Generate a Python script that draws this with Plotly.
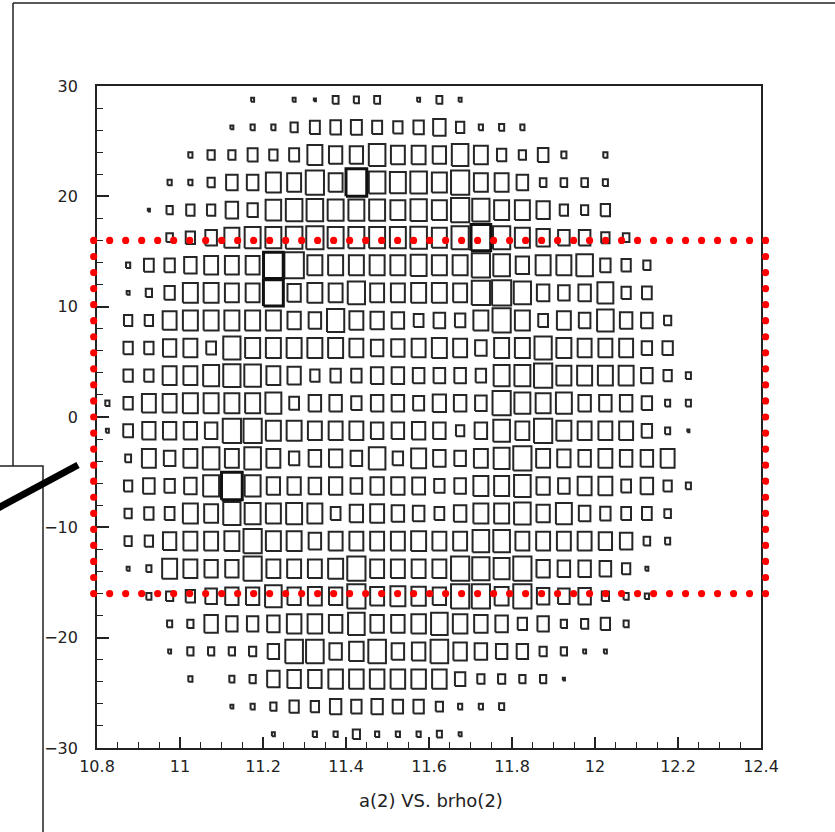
import numpy as np
import plotly.graph_objects as go

# ---- data ---------------------------------------------------------------
x_centers = [10.825, 10.875, 10.925, 10.975, 11.025, 11.075, 11.125, 11.175,
             11.225, 11.275, 11.325, 11.375, 11.425, 11.475, 11.525, 11.575,
             11.625, 11.675, 11.725, 11.775, 11.825, 11.875, 11.925, 11.975,
             12.025, 12.075, 12.125, 12.175, 12.225, 12.275, 12.325, 12.375]
y_centers = [28.75, 26.25, 23.75, 21.25, 18.75, 16.25, 13.75, 11.25, 8.75, 6.25,
             3.75, 1.25, -1.25, -3.75, -6.25, -8.75, -11.25, -13.75, -16.25,
             -18.75, -21.25, -23.75, -26.25, -28.75]
bin_dx = 0.05
bin_dy = 2.5

# counts per cell, rows top (y=28.75) to bottom (y=-28.75)
counts = [
    [0,0,0,0,0,0,0,2,0,2,1,8,6,8,0,2,8,2,0,0,0,0,0,0,0,0,0,0,0,0,0,0],
    [0,0,0,0,0,0,2,4,4,12,23,26,28,23,20,25,36,16,4,6,4,0,0,0,0,0,0,0,0,0,0,0],
    [0,0,0,0,4,12,12,23,16,23,52,41,41,64,45,45,41,64,45,20,12,26,6,0,4,0,0,0,0,0,0,0],
    [0,0,0,4,4,12,31,31,52,45,77,45,100,64,59,64,52,77,45,45,31,10,10,10,6,0,0,0,0,0,0,0],
    [0,0,1,9,16,16,36,25,56,64,64,59,59,59,52,62,52,77,69,52,52,41,16,12,20,0,0,0,0,0,0,0],
    [0,0,0,10,20,31,52,59,59,64,69,59,59,59,59,64,52,69,90,69,52,41,31,31,16,10,0,0,0,0,0,0],
    [0,4,22,25,36,45,45,45,90,88,52,52,52,52,52,59,52,52,77,64,41,52,52,64,25,20,12,0,0,0,0,0],
    [0,2,9,25,52,52,45,45,92,41,52,45,69,45,45,52,52,45,77,85,69,36,31,36,59,20,22,0,0,0,0,0],
    [0,16,16,45,52,52,52,52,52,41,36,69,45,41,36,22,31,25,52,77,52,22,45,31,64,36,31,12,0,0,0,0],
    [0,20,20,41,45,22,69,52,52,52,52,52,45,36,41,45,52,45,31,52,52,69,52,45,45,45,25,25,0,0,0,0],
    [0,20,20,45,45,59,69,64,45,41,20,25,25,36,36,31,31,31,25,59,59,77,52,52,52,52,31,16,6,0,0,0],
    [4,20,45,45,52,52,52,52,59,22,36,36,25,36,36,28,41,36,31,77,59,52,59,36,36,36,25,6,6,0,0,0],
    [2,22,41,41,41,36,77,77,52,52,45,45,45,36,36,41,36,16,36,64,45,77,52,45,45,45,25,6,1,0,0,0],
    [0,8,45,31,45,64,45,64,45,25,36,41,31,64,25,52,36,31,45,59,77,45,41,36,45,36,36,45,0,0,0,0],
    [0,16,31,25,36,59,100,59,41,41,36,41,31,41,41,38,25,31,52,52,64,41,31,45,45,22,36,16,6,0,0,0],
    [0,12,20,22,52,45,69,59,52,59,52,22,41,45,36,31,22,36,52,52,64,41,59,31,25,22,22,10,0,0,0,0],
    [0,12,16,41,45,45,52,77,52,52,36,45,45,45,45,52,45,45,64,64,45,45,45,45,41,36,10,6,0,0,0,0],
    [0,2,6,52,45,41,41,77,45,45,45,52,77,45,45,45,45,77,69,59,77,41,36,36,31,16,2,0,0,0,0,0],
    [0,0,6,12,20,31,41,41,64,41,45,41,77,45,52,48,41,77,77,45,77,36,31,36,12,6,4,0,0,0,0,0],
    [0,0,0,6,9,42,30,30,36,49,49,42,64,42,42,49,64,49,42,36,20,30,9,12,20,6,0,0,0,0,0,0],
    [0,0,0,2,9,9,9,12,30,72,72,36,49,72,36,42,72,42,36,30,30,12,9,2,2,0,0,0,0,0,0,0],
    [0,0,0,0,4,0,6,9,36,42,42,49,49,49,49,49,49,25,12,12,9,9,1,0,0,0,0,0,0,0,0,0],
    [0,0,0,0,0,0,2,4,9,20,16,30,25,30,25,25,12,4,4,6,0,0,0,0,0,0,0,0,0,0,0,0],
    [0,0,0,0,0,0,0,0,2,0,4,4,12,4,4,4,6,2,0,0,0,0,0,0,0,0,0,0,0,0,0,0],
]

x_tickvals = [10.8, 11.0, 11.2, 11.4, 11.6, 11.8, 12.0, 12.2, 12.4]
x_ticktext = ["10.8", "11", "11.2", "11.4", "11.6", "11.8", "12", "12.2", "12.4"]
y_tickvals = [-30, -20, -10, 0, 10, 20, 30]
y_ticktext = ["\u221230", "\u221220", "\u221210", "0", "10", "20", "30"]

title_text = "a(2) VS. brho(2)"

# selection window (red dotted rectangle), data units
sel_x0, sel_x1 = 10.792, 12.411
sel_y0, sel_y1 = -16.0, 16.0

x_range = [10.8, 12.4]
y_range = [-30, 30]

# ---- build box outlines ---------------------------------------------------
cmax = max(max(r) for r in counts)
norm_x, norm_y, bold_x, bold_y = [], [], [], []
for j, row in enumerate(counts):
    for i, c in enumerate(row):
        if c <= 0:
            continue
        f = np.sqrt(c / cmax)
        hx = 0.5 * f * bin_dx
        hy = 0.5 * f * bin_dy
        xc, yc = x_centers[i], y_centers[j]
        xs = [xc - hx, xc + hx, xc + hx, xc - hx, xc - hx, None]
        ys = [yc - hy, yc - hy, yc + hy, yc + hy, yc - hy, None]
        if c >= 90:
            bold_x += xs; bold_y += ys
        else:
            norm_x += xs; norm_y += ys

fig = go.Figure()
fig.add_trace(go.Scatter(x=norm_x, y=norm_y, mode="lines",
                         line=dict(color="#262626", width=2.0),
                         hoverinfo="skip", showlegend=False))
fig.add_trace(go.Scatter(x=bold_x, y=bold_y, mode="lines",
                         line=dict(color="#111111", width=3.0),
                         hoverinfo="skip", showlegend=False))

# ---- layout ---------------------------------------------------------------
W, H = 835, 832
ML, MR, MT, MB = 97, 74, 86, 84
pw, ph = W - ML - MR, H - MT - MB


def px_x(p):
    return (p - ML) / pw


def px_y(p):
    return (H - MB - p) / ph


def dx_paper(x):
    return (x - x_range[0]) / (x_range[1] - x_range[0])


def dy_paper(y):
    return (y - y_range[0]) / (y_range[1] - y_range[0])


shapes = [
    # outer page frame
    dict(type="line", xref="paper", yref="paper",
         x0=px_x(13), y0=px_y(3), x1=px_x(840), y1=px_y(3),
         line=dict(color="#222", width=1.5)),
    dict(type="line", xref="paper", yref="paper",
         x0=px_x(13), y0=px_y(3), x1=px_x(13), y1=px_y(466),
         line=dict(color="#222", width=1.5)),
    # overlapping white panel
    dict(type="rect", xref="paper", yref="paper",
         x0=px_x(-5), y0=px_y(466), x1=px_x(43), y1=px_y(845),
         fillcolor="white", line=dict(color="#222", width=1.5)),
    # thick pointer line
    dict(type="line", xref="paper", yref="paper",
         x0=px_x(-2), y0=px_y(508), x1=px_x(78), y1=px_y(465),
         line=dict(color="black", width=7)),
]

# red dotted selection window: dots along the perimeter
nx, ny = 42, 22
tx = np.linspace(sel_x0, sel_x1, nx + 1)
ty = np.linspace(sel_y0, sel_y1, ny + 1)
perim = ([(x, sel_y1) for x in tx] + [(x, sel_y0) for x in tx] +
         [(sel_x0, y) for y in ty[1:-1]] + [(sel_x1, y) for y in ty[1:-1]])
r = 3.6
for (x, y) in perim:
    shapes.append(dict(type="circle", xref="paper", yref="paper",
                       xsizemode="pixel", ysizemode="pixel",
                       xanchor=dx_paper(x), yanchor=dy_paper(y),
                       x0=-r, x1=r, y0=-r, y1=r,
                       fillcolor="#ff0000", line=dict(width=0)))

font = dict(family="DejaVu Sans", size=16, color="#222222")

fig.update_layout(
    width=W, height=H,
    margin=dict(l=ML, r=MR, t=MT, b=MB),
    paper_bgcolor="white", plot_bgcolor="white",
    font=font,
    xaxis=dict(range=x_range, tickvals=x_tickvals, ticktext=x_ticktext,
               ticks="inside", ticklen=11, tickwidth=1.5, tickcolor="#222",
               showline=True, linecolor="#222", linewidth=1.8, mirror=True,
               showgrid=False, zeroline=False, ticklabelstandoff=3,
               minor=dict(dtick=0.05, tick0=10.8, ticks="inside", ticklen=6,
                          tickwidth=1.3, tickcolor="#222", showgrid=False)),
    yaxis=dict(range=y_range, tickvals=y_tickvals, ticktext=y_ticktext,
               ticks="inside", ticklen=12, tickwidth=1.5, tickcolor="#222",
               showline=True, linecolor="#222", linewidth=1.8, mirror=True,
               showgrid=False, zeroline=False, ticklabelstandoff=14,
               minor=dict(dtick=2, tick0=-30, ticks="inside", ticklen=6,
                          tickwidth=1.3, tickcolor="#222", showgrid=False)),
    annotations=[dict(text=title_text, xref="paper", yref="paper",
                      x=px_x(431), y=px_y(800), showarrow=False,
                      xanchor="center", yanchor="middle",
                      font=dict(family="DejaVu Sans", size=18, color="#222"))],
    shapes=shapes,
)

fig.write_html("out.html",
               config={"displayModeBar": False},
               post_script="document.body.style.margin='0px';"
                           "document.body.style.overflow='hidden';")
